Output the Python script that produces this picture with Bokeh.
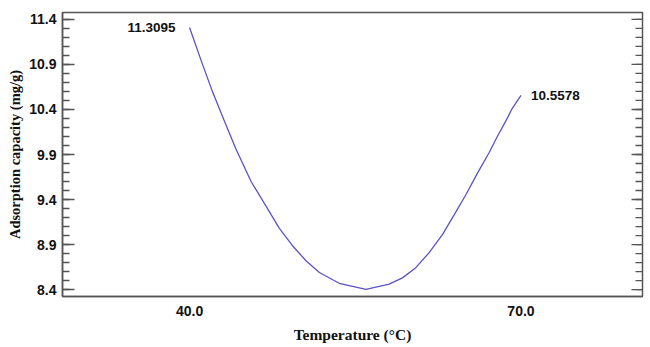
import math
from bokeh.plotting import figure
from bokeh.models import Range1d, FixedTicker, Title
from bokeh.embed import file_html
from bokeh.resources import INLINE
from bokeh.core.properties import value

# Data
temperature = [40.0, 41.06, 42.1, 43.16, 44.2, 45.57, 47.1, 48.13, 49.3, 50.54, 51.75, 53.55, 55.97,
               58.07, 59.27, 60.48, 61.69, 62.89, 63.95, 65.0, 66.05, 67.11, 67.86, 68.62, 69.2, 70.0]
capacity = [11.3095, 10.94, 10.59, 10.27, 9.96, 9.60, 9.29, 9.08, 8.89, 8.72, 8.59, 8.47, 8.403,
            8.46, 8.53, 8.643, 8.81, 9.01, 9.23, 9.45, 9.69, 9.92, 10.10, 10.27, 10.41, 10.5578]
x_ticks = [40, 70]
x_tick_labels = ["40.0", "70.0"]
y_ticks = [8.4, 8.9, 9.4, 9.9, 10.4, 10.9, 11.4]
y_minor_ticks = [8.4 + 0.1 * i for i in range(31)]
end_labels = ["11.3095", "10.5578"]

X_START, X_END = 28.5, 81.0
line_color = "#5b52c9"
frame_color = "#555555"

p = figure(width=648, height=345, output_backend="svg", toolbar_location=None,
           x_range=Range1d(X_START, X_END), y_range=Range1d(8.323, 11.477),
           min_border_left=62, min_border_right=6, min_border_top=12, min_border_bottom=48,
           background_fill_color="white", border_fill_color="white")
p.grid.visible = False
p.outline_line_color = frame_color
p.outline_line_width = 1.5

p.line(temperature, capacity, line_color=line_color, line_width=1.3)

# end annotations
p.text(x=[temperature[0]], y=[capacity[0]], text=[end_labels[0]], text_align="right",
       text_baseline="middle", x_offset=-14, text_font=value("Liberation Sans"),
       text_font_style="bold", text_font_size="13.5px", text_color="#111111")
p.text(x=[temperature[-1]], y=[capacity[-1]], text=[end_labels[1]], text_align="left",
       text_baseline="middle", x_offset=10, text_font=value("Liberation Sans"),
       text_font_style="bold", text_font_size="13.5px", text_color="#111111")

# right-side inward ticks
p.ray(x=[X_END] * len(y_ticks), y=y_ticks, length=11, length_units="screen", angle=math.pi,
      line_color=frame_color, line_width=1.3)
p.ray(x=[X_END] * len(y_minor_ticks), y=y_minor_ticks, length=7, length_units="screen", angle=math.pi,
      line_color=frame_color, line_width=1.3)

# x axis
xa = p.xaxis[0]
xa.ticker = FixedTicker(ticks=x_ticks)
xa.major_label_overrides = {t: l for t, l in zip(x_ticks, x_tick_labels)}
xa.major_tick_line_color = None
xa.minor_tick_line_color = None
xa.axis_line_color = frame_color
xa.axis_line_width = 1.5
xa.major_label_standoff = 3
xa.major_label_text_font = "Liberation Sans"
xa.major_label_text_font_style = "bold"
xa.major_label_text_font_size = "14px"
xa.major_label_text_color = "#111111"
xa.axis_label = "Temperature (°C)"
xa.axis_label_text_font = "Liberation Serif"
xa.axis_label_text_font_style = "bold"
xa.axis_label_text_font_size = "15.5px"
xa.axis_label_text_color = "#111111"
xa.axis_label_standoff = 7

# y axis
ya = p.yaxis[0]
ya.ticker = FixedTicker(ticks=y_ticks, minor_ticks=y_minor_ticks)
ya.axis_line_color = frame_color
ya.axis_line_width = 1.5
ya.major_tick_in = 12
ya.major_tick_out = 0
ya.minor_tick_in = 7
ya.minor_tick_out = 0
ya.major_tick_line_color = frame_color
ya.minor_tick_line_color = frame_color
ya.major_tick_line_width = 1.3
ya.minor_tick_line_width = 1.3
ya.major_label_standoff = 6
ya.major_label_text_font = "Liberation Sans"
ya.major_label_text_font_style = "bold"
ya.major_label_text_font_size = "14px"
ya.major_label_text_color = "#111111"

ylabel = Title(text="Adsorption capacity (mg/g)", align="center", offset=12,
               text_font="Liberation Serif", text_font_style="bold", text_font_size="14.5px",
               text_color="#111111", standoff=8)
p.add_layout(ylabel, "left")

open("out.html", "w").write(file_html(p, INLINE))
